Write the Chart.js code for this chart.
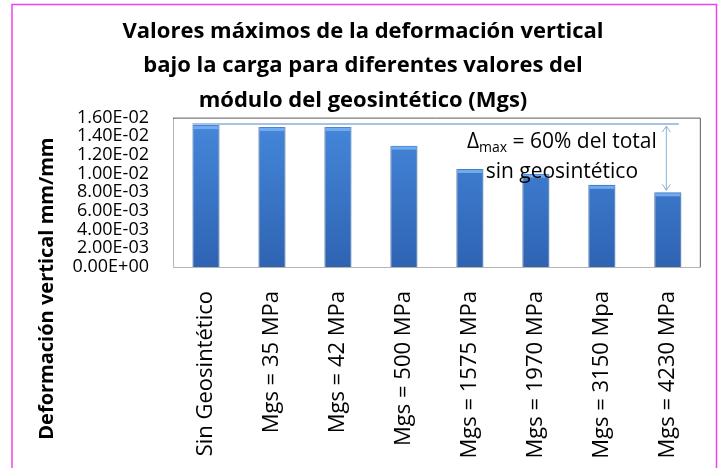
<!DOCTYPE html>
<html>
<head>
<meta charset="utf-8">
<script src="https://cdn.jsdelivr.net/npm/chart.js@4/dist/chart.umd.min.js"></script>
<style>
  html, body { margin: 0; padding: 0; background: #ffffff; }
  #wrap { position: relative; width: 719px; height: 468px; }
</style>
</head>
<body>
<div id="wrap"><canvas id="c"></canvas></div>
<script>
// ---- data ----
const categories = [
  "Sin Geosintético",
  "Mgs = 35 MPa",
  "Mgs = 42 MPa",
  "Mgs = 500 MPa",
  "Mgs = 1575 MPa",
  "Mgs = 1970 MPa",
  "Mgs = 3150 Mpa",
  "Mgs = 4230 MPa"
];
const deformacion = [0.0152, 0.0150, 0.0150, 0.0130, 0.0105, 0.0100, 0.0088, 0.0080];
const yTickLabels = ["0.00E+00","2.00E-03","4.00E-03","6.00E-03","8.00E-03","1.00E-02","1.20E-02","1.40E-02","1.60E-02"];
const titleLines = [
  "Valores máximos de la deformación vertical",
  "bajo la carga para diferentes valores del",
  "módulo del geosintético (Mgs)"
];
const yAxisTitle = "Deformación vertical mm/mm";
const noteLine1 = ["Δ", "max", " = 60% del total"];
const noteLine2 = "sin geosintético";

const FONT = "'Open Sans', 'Noto Sans', sans-serif";

function barGradient(ctx) {
  const chart = ctx.chart;
  const area = chart.chartArea;
  if (!area) return '#3B7DD3';
  const g = chart.ctx.createLinearGradient(0, area.top, 0, area.bottom);
  g.addColorStop(0, '#4588DC');
  g.addColorStop(1, '#2F63B2');
  return g;
}

const decorPlugin = {
  id: 'decor',
  beforeDraw(chart) {
    const c = chart.ctx;
    c.save();
    c.fillStyle = '#ffffff';
    c.fillRect(0, 0, chart.width, chart.height);
    c.strokeStyle = '#EE44EE';
    c.lineWidth = 1.5;
    c.strokeRect(12, 4.5, chart.width - 14.5, chart.height + 10);
    c.restore();
  },
  beforeDatasetsDraw(chart) {
    const c = chart.ctx;
    const a = chart.chartArea;
    c.save();
    c.lineWidth = 1;
    c.strokeStyle = '#B4B4B4';
    c.beginPath();
    c.moveTo(a.left + 0.5, a.top);
    c.lineTo(a.left + 0.5, a.bottom + 0.5);
    c.lineTo(a.right, a.bottom + 0.5);
    c.stroke();
    c.strokeStyle = '#5A5A5A';
    c.beginPath();
    c.moveTo(a.left, a.top + 0.5);
    c.lineTo(a.right - 0.5, a.top + 0.5);
    c.lineTo(a.right - 0.5, a.bottom);
    c.stroke();
    c.restore();
  },
  afterDatasetsDraw(chart) {
    const c = chart.ctx;
    const a = chart.chartArea;
    const meta = chart.getDatasetMeta(0);
    const ys = chart.scales.y;
    c.save();
    meta.data.forEach(b => {
      const w = b.width;
      c.fillStyle = 'rgba(120,175,240,0.9)';
      c.fillRect(b.x - w / 2 + 1, b.y + 1, w - 2, 3);
    });
    c.restore();

    const first = meta.data[0];
    const last = meta.data[meta.data.length - 1];
    const yTop = ys.getPixelForValue(deformacion[0]) - 1;
    const yBot = ys.getPixelForValue(deformacion[deformacion.length - 1]);
    const ax = last.x - 2;
    c.save();
    c.strokeStyle = '#A9C2E3';
    c.lineWidth = 2;
    c.beginPath();
    c.moveTo(first.x - first.width / 2, yTop);
    c.lineTo(last.x + 11, yTop);
    c.stroke();
    c.strokeStyle = '#8EAFD9';
    c.lineWidth = 1;
    c.beginPath();
    c.moveTo(ax + 0.5, yTop + 2);
    c.lineTo(ax + 0.5, yBot - 2);
    c.moveTo(ax - 3.5, yTop + 8);
    c.lineTo(ax + 0.5, yTop + 2);
    c.lineTo(ax + 4.5, yTop + 8);
    c.moveTo(ax - 3.5, yBot - 8);
    c.lineTo(ax + 0.5, yBot - 2);
    c.lineTo(ax + 4.5, yBot - 8);
    c.stroke();

    const cx = ax - 104;
    c.fillStyle = '#000000';
    c.textBaseline = 'alphabetic';
    const big = '21px ' + FONT, small = '14px ' + FONT;
    c.font = big; const w0 = c.measureText(noteLine1[0]).width;
    const w2 = c.measureText(noteLine1[2]).width;
    c.font = small; const w1 = c.measureText(noteLine1[1]).width;
    let x = cx - (w0 + w1 + w2) / 2;
    const b1 = a.top + 30, b2 = a.top + 60;
    c.textAlign = 'left';
    c.font = big; c.fillText(noteLine1[0], x, b1); x += w0;
    c.font = small; c.fillText(noteLine1[1], x, b1 + 4); x += w1;
    c.font = big; c.fillText(noteLine1[2], x, b1);
    c.textAlign = 'center';
    c.fillText(noteLine2, cx, b2);
    c.restore();
  },
  afterDraw(chart) {
    const c = chart.ctx;
    const a = chart.chartArea;
    c.save();
    c.translate(47, a.top + 171);
    c.rotate(-Math.PI / 2);
    c.font = 'bold 20px ' + FONT;
    c.fillStyle = '#000000';
    c.textAlign = 'center';
    c.textBaseline = 'middle';
    c.fillText(yAxisTitle, 0, 0);
    c.restore();
  }
};

new Chart(document.getElementById('c'), {
  type: 'bar',
  data: {
    labels: categories,
    datasets: [{
      data: deformacion,
      backgroundColor: barGradient,
      borderColor: '#2A5696',
      borderWidth: { left: 1, right: 1, top: 0, bottom: 0 },
      borderSkipped: false,
      categoryPercentage: 1,
      barPercentage: 0.41
    }]
  },
  options: {
    responsive: true,
    maintainAspectRatio: false,
    animation: false,
    devicePixelRatio: 1,
    layout: { padding: { left: 19, right: 12, top: 0, bottom: 0 } },
    plugins: {
      legend: { display: false },
      tooltip: { enabled: false },
      title: {
        display: true,
        text: titleLines,
        color: '#000000',
        font: { family: FONT, size: 22, weight: 'bold', lineHeight: 1.57 },
        padding: { top: 14, bottom: 0 }
      }
    },
    scales: {
      x: {
        grid: { display: false, drawTicks: false },
        border: { display: false },
        ticks: {
          color: '#000000',
          font: { family: FONT, size: 22 },
          minRotation: 90,
          maxRotation: 90,
          padding: 24,
          autoSkip: false
        },
        afterFit(s) { s.height = 201; }
      },
      y: {
        min: 0,
        max: 0.016,
        grid: { display: false, drawTicks: false },
        border: { display: false },
        ticks: {
          stepSize: 0.002,
          autoSkip: false,
          color: '#000000',
          font: { family: FONT, size: 18, lineHeight: 1 },
          padding: 24,
          callback: (v, i) => yTickLabels[i]
        },
        afterFit(s) { s.width = 154; }
      }
    }
  },
  plugins: [decorPlugin]
});
</script>
</body>
</html>
